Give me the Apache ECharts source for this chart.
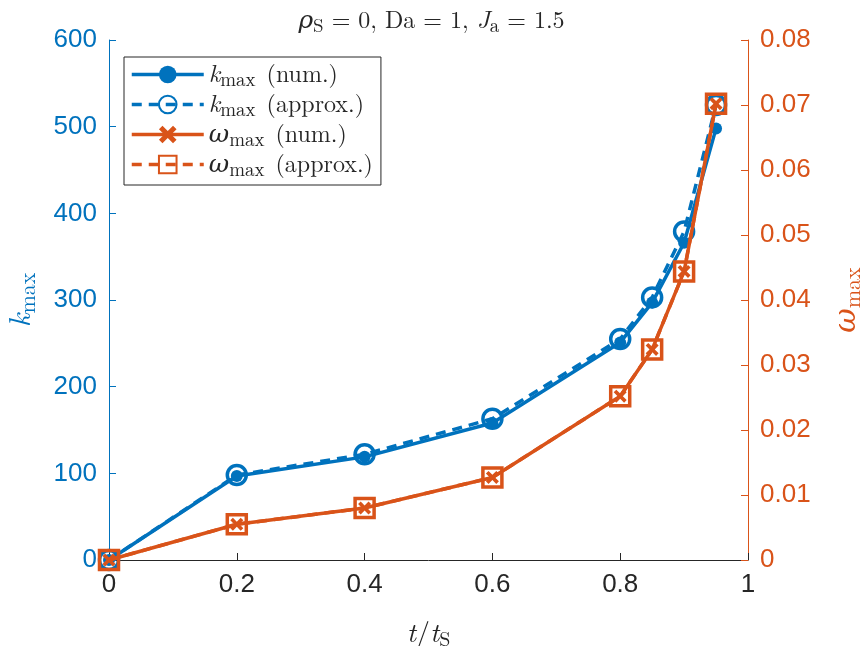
<!DOCTYPE html>
<html>
<head>
<meta charset="utf-8">
<script src="https://cdn.jsdelivr.net/npm/echarts@6/dist/echarts.min.js"></script>
<style>
  html, body { margin: 0; padding: 0; background: #fff; }
  #chart { width: 863px; height: 646px; }
</style>
</head>
<body>
<div id="chart"></div>
<script>
// values
const tValues = [0, 0.2, 0.4, 0.6, 0.8, 0.85, 0.9, 0.95];
const kNum = [0, 97, 119, 158, 251, 297, 366, 498];
const kApprox = [0, 98, 122, 163, 255, 303, 379, 525];
const wNum = [0, 0.0055, 0.008, 0.0127, 0.0252, 0.0324, 0.0444, 0.0702];
const wApprox = [0, 0.0055, 0.008, 0.0127, 0.0252, 0.0324, 0.0444, 0.0702];

const BLUE = "#0072BD";
const ORANGE = "#D95319";
const DARK = "#262626";
const SERIF = "'Latin Modern Roman', 'DejaVu Serif', serif";
const SANS = "'Liberation Sans', Arial, sans-serif";

const pairs = (ys) => tValues.map((t, i) => [t, ys[i]]);

const crossPath =
  "path://M0,2 L2,0 L5,3 L8,0 L10,2 L7,5 L10,8 L8,10 L5,7 L2,10 L0,8 L3,5 Z";

const rich = {
  i: { fontFamily: SERIF, fontStyle: "italic", fontWeight: "normal", fontSize: 25, color: DARK },
  r: { fontFamily: SERIF, fontWeight: "normal", fontSize: 24, color: DARK },
  sub: { fontFamily: SERIF, fontWeight: "normal", fontSize: 19, color: DARK, verticalAlign: "bottom", padding: [12, 0, 0, 0] },
  t: { fontFamily: SERIF, fontWeight: "normal", fontSize: 24, color: DARK, padding: [0, 0, 0, 11] },
};

const legendLabels = {
  kNum: "{i|k}{sub|max}{t|(num.)}",
  kApprox: "{i|k}{sub|max}{t|(approx.)}",
  wNum: "{i|ω}{sub|max}{t|(num.)}",
  wApprox: "{i|ω}{sub|max}{t|(approx.)}",
};

const chart = echarts.init(document.getElementById("chart"));

chart.setOption({
  animation: false,
  backgroundColor: "#fff",
  title: {
    text: "{i|ρ}{sub|S}{r| = 0, Da = 1, }{i|J}{sub|a}{r| = 1.5}",
    left: "center",
    top: 0,
    textStyle: { fontWeight: "normal", rich },
  },
  legend: {
    orient: "vertical",
    left: 124,
    top: 57,
    itemWidth: 72,
    itemHeight: 22,
    itemGap: 2,
    padding: [5, 8, 5, 6],
    borderColor: DARK,
    borderWidth: 1,
    backgroundColor: "#fff",
    lineStyle: { width: 3.5 },
    data: ["kNum", "kApprox", "wNum", "wApprox"],
    formatter: (name) => legendLabels[name],
    textStyle: { rich },
  },
  grid: {
    left: 109,
    right: 115,
    top: 40,
    bottom: 86,
    containLabel: false,
    outerBoundsMode: "none",
  },
  xAxis: {
    type: "value",
    min: 0,
    max: 1,
    interval: 0.2,
    name: "{i|t}{r|/}{i|t}{sub|S}",
    nameLocation: "middle",
    nameGap: 56,
    nameTextStyle: {
      rich: {
        i: { fontFamily: SERIF, fontStyle: "italic", fontSize: 28, color: DARK },
        r: { fontFamily: SERIF, fontSize: 28, color: DARK },
        sub: { fontFamily: SERIF, fontSize: 20, color: DARK, verticalAlign: "bottom", padding: [14, 0, 0, 0] },
      },
    },
    axisLine: { onZero: false, lineStyle: { color: DARK, width: 1 } },
    axisTick: { inside: true, length: 7, lineStyle: { color: DARK } },
    axisLabel: { color: DARK, fontFamily: SANS, fontSize: 26, margin: 12 },
    splitLine: { show: false },
  },
  yAxis: [
    {
      type: "value",
      position: "left",
      min: 0,
      max: 600,
      interval: 100,
      name: "{i|k}{sub|max}",
      nameLocation: "middle",
      nameRotate: 90,
      nameGap: 70,
      nameTextStyle: {
        rich: {
          i: { fontFamily: SERIF, fontStyle: "italic", fontSize: 30, color: BLUE },
          sub: { fontFamily: SERIF, fontSize: 22, color: BLUE, verticalAlign: "bottom", padding: [14, 0, 0, 0] },
        },
      },
      axisLine: { show: true, lineStyle: { color: BLUE, width: 1 } },
      axisTick: { show: true, inside: true, length: 7, lineStyle: { color: BLUE } },
      axisLabel: { color: BLUE, fontFamily: SANS, fontSize: 26, margin: 12 },
      splitLine: { show: false },
    },
    {
      type: "value",
      position: "right",
      min: 0,
      max: 0.08,
      interval: 0.01,
      name: "{i|ω}{sub|max}",
      nameLocation: "middle",
      nameRotate: 90,
      nameGap: 80,
      nameTextStyle: {
        rich: {
          i: { fontFamily: SERIF, fontStyle: "italic", fontSize: 30, color: ORANGE },
          sub: { fontFamily: SERIF, fontSize: 22, color: ORANGE, verticalAlign: "bottom", padding: [14, 0, 0, 0] },
        },
      },
      axisLine: { show: true, lineStyle: { color: ORANGE, width: 1 } },
      axisTick: { show: true, inside: true, length: 7, lineStyle: { color: ORANGE } },
      axisLabel: {
        color: ORANGE,
        fontFamily: SANS,
        fontSize: 26,
        margin: 12,
        formatter: (v) => (v === 0 ? "0" : v.toFixed(2)),
      },
      splitLine: { show: false },
    },
  ],
  series: [
    {
      name: "kNum",
      type: "line",
      yAxisIndex: 0,
      data: pairs(kNum),
      symbol: "circle",
      symbolSize: 12,
      itemStyle: { color: BLUE },
      lineStyle: { color: BLUE, width: 3.5 },
      z: 2,
    },
    {
      name: "kApprox",
      type: "line",
      yAxisIndex: 0,
      data: pairs(kApprox),
      symbol: "circle",
      symbolSize: 19,
      itemStyle: { color: "rgba(255,255,255,0)", borderColor: BLUE, borderWidth: 3.5 },
      lineStyle: { color: BLUE, width: 3.5, type: [10, 7] },
      z: 3,
    },
    {
      name: "wNum",
      type: "line",
      yAxisIndex: 1,
      data: pairs(wNum),
      symbol: crossPath,
      symbolSize: 13,
      itemStyle: { color: ORANGE },
      lineStyle: { color: ORANGE, width: 3.5 },
      z: 4,
    },
    {
      name: "wApprox",
      type: "line",
      yAxisIndex: 1,
      data: pairs(wApprox),
      symbol: "rect",
      symbolSize: 19,
      itemStyle: { color: "rgba(255,255,255,0)", borderColor: ORANGE, borderWidth: 3.5 },
      lineStyle: { color: ORANGE, width: 3.5, type: [10, 7] },
      z: 5,
    },
  ],
});
</script>
</body>
</html>
